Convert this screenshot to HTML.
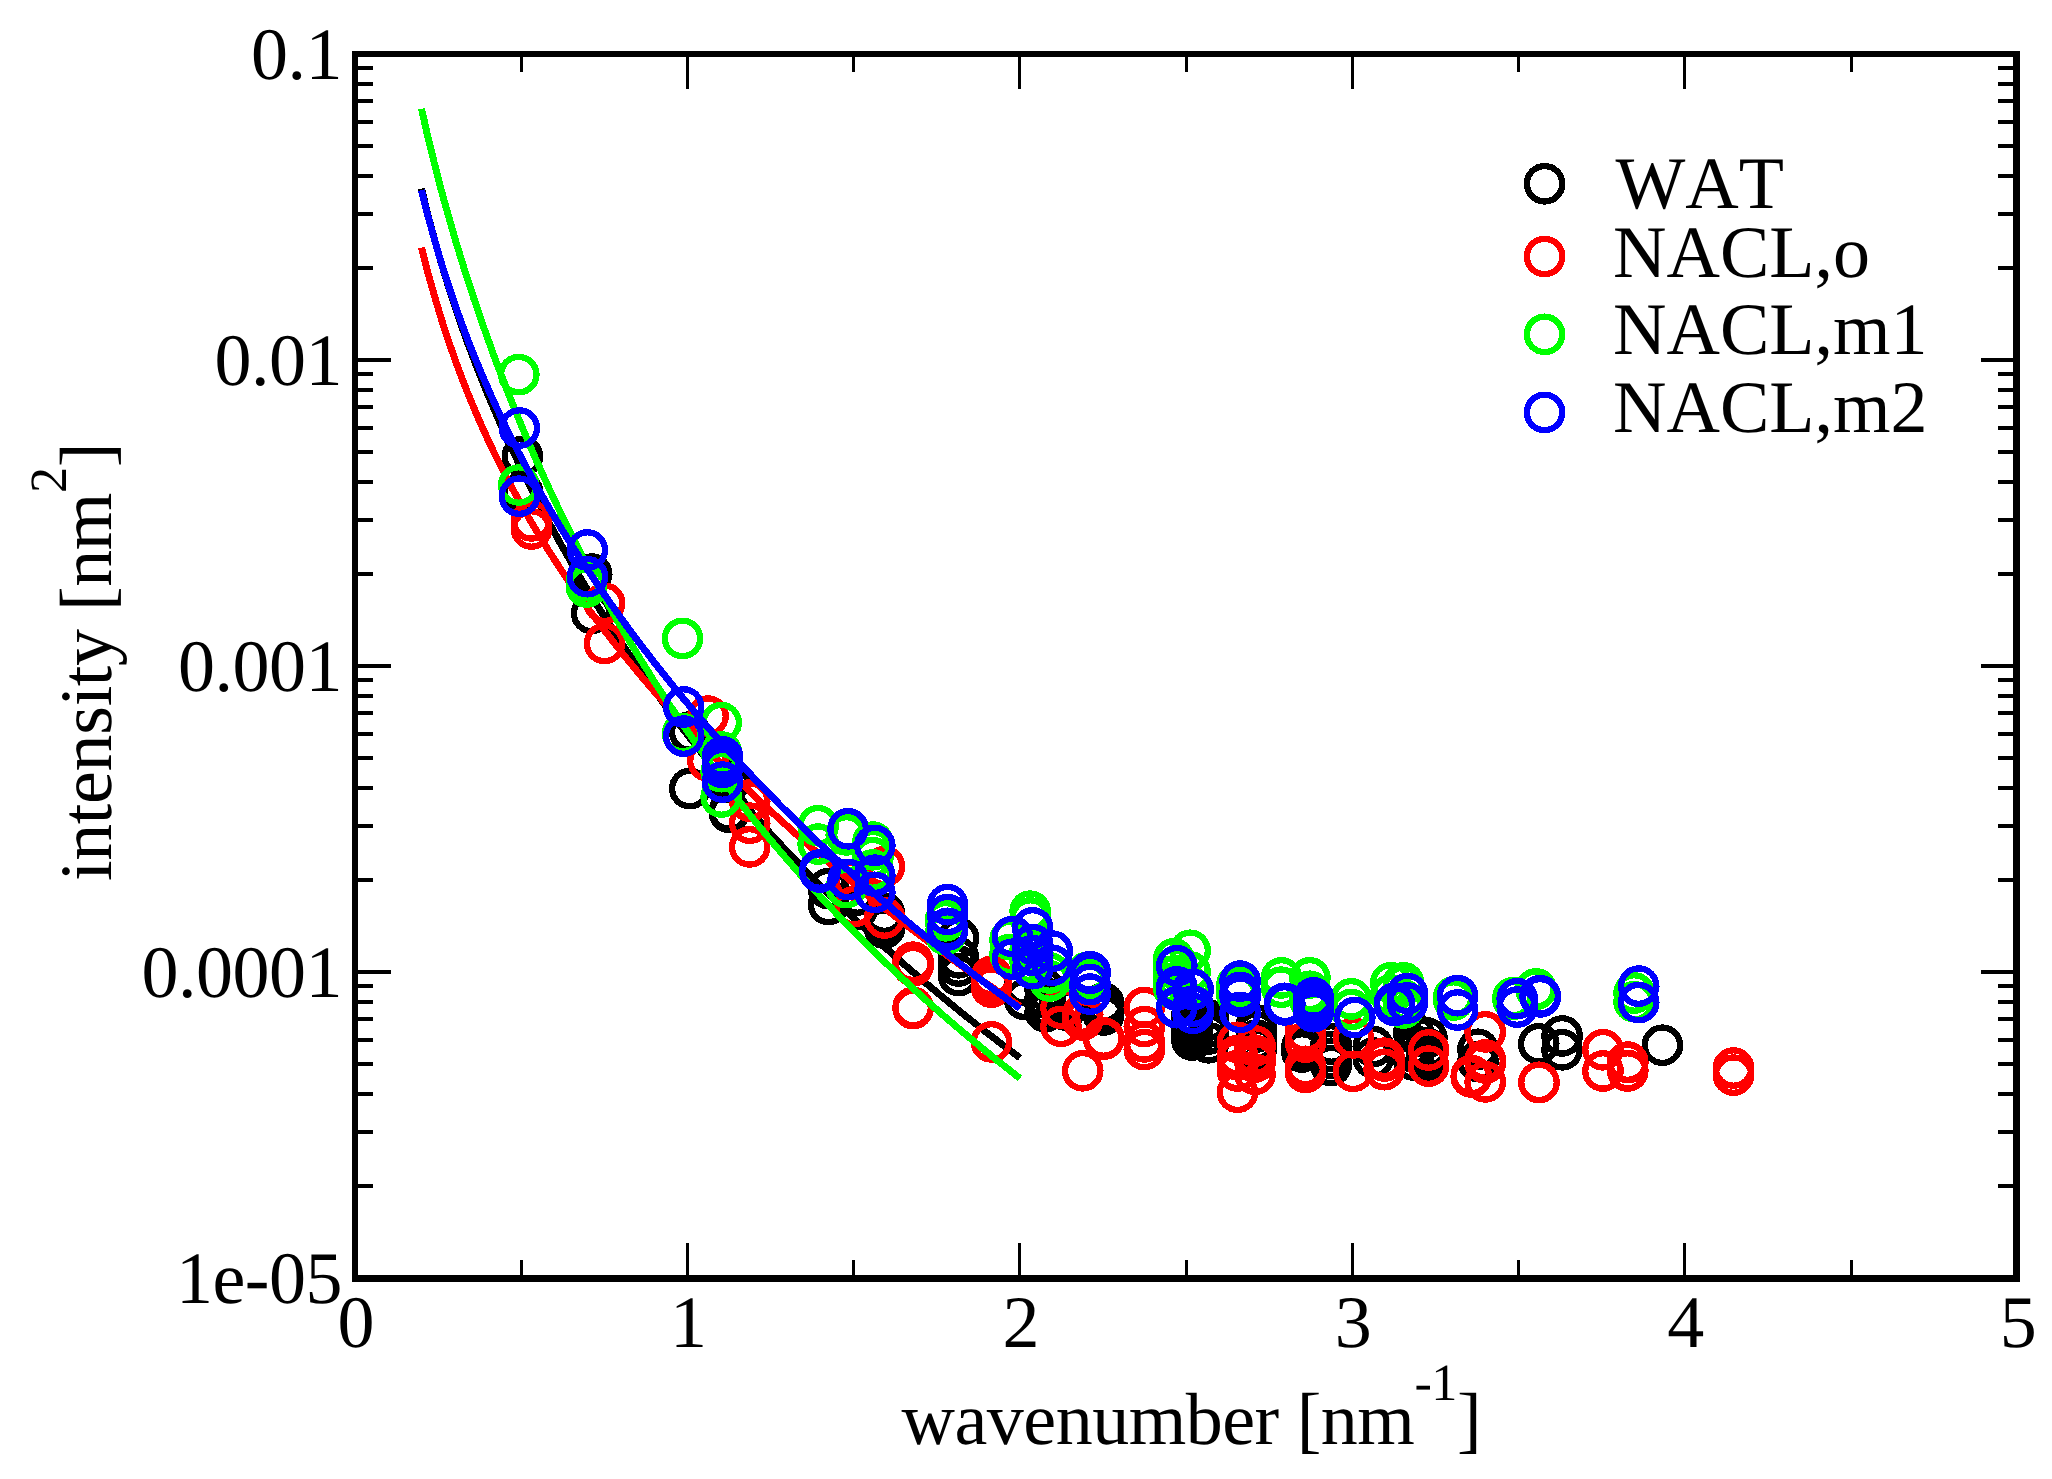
<!DOCTYPE html>
<html><head><meta charset="utf-8"><title>plot</title>
<style>html,body{margin:0;padding:0;background:#fff;overflow:hidden}svg{display:block}</style></head><body>
<svg width="2052" height="1479" viewBox="0 0 2052 1479">
<rect width="2052" height="1479" fill="#fff"/>
<g shape-rendering="crispEdges">
<g fill="none" stroke="#000" stroke-width="6.3"><circle cx="522.4" cy="456.3" r="17.7"/><circle cx="522.4" cy="491.8" r="17.7"/><circle cx="591.7" cy="574.1" r="17.7"/><circle cx="591.7" cy="613.4" r="17.7"/><circle cx="689.8" cy="732.0" r="17.7"/><circle cx="689.8" cy="788.6" r="17.7"/><circle cx="729.3" cy="781.0" r="17.7"/><circle cx="729.3" cy="782.5" r="17.7"/><circle cx="729.3" cy="811.0" r="17.7"/><circle cx="729.3" cy="812.4" r="17.7"/><circle cx="828.5" cy="888.7" r="17.7"/><circle cx="828.5" cy="904.5" r="17.7"/><circle cx="857.2" cy="895.0" r="17.7"/><circle cx="857.2" cy="909.3" r="17.7"/><circle cx="884.4" cy="913.1" r="17.7"/><circle cx="884.4" cy="920.0" r="17.7"/><circle cx="884.4" cy="922.7" r="17.7"/><circle cx="884.4" cy="928.2" r="17.7"/><circle cx="958.6" cy="938.2" r="17.7"/><circle cx="958.6" cy="957.8" r="17.7"/><circle cx="958.6" cy="966.0" r="17.7"/><circle cx="958.6" cy="975.6" r="17.7"/><circle cx="1024.6" cy="985.0" r="17.7"/><circle cx="1024.6" cy="999.4" r="17.7"/><circle cx="1045.2" cy="990.0" r="17.7"/><circle cx="1045.2" cy="998.0" r="17.7"/><circle cx="1045.2" cy="1005.0" r="17.7"/><circle cx="1045.2" cy="1011.7" r="17.7"/><circle cx="1065.2" cy="1000.0" r="17.7"/><circle cx="1065.2" cy="1010.0" r="17.7"/><circle cx="1103.6" cy="1003.0" r="17.7"/><circle cx="1103.6" cy="1007.0" r="17.7"/><circle cx="1103.6" cy="1011.0" r="17.7"/><circle cx="1103.6" cy="1015.0" r="17.7"/><circle cx="1192.0" cy="1015.0" r="17.7"/><circle cx="1192.0" cy="1020.0" r="17.7"/><circle cx="1192.0" cy="1026.0" r="17.7"/><circle cx="1192.0" cy="1031.0" r="17.7"/><circle cx="1192.0" cy="1036.0" r="17.7"/><circle cx="1192.0" cy="1040.0" r="17.7"/><circle cx="1208.6" cy="1020.0" r="17.7"/><circle cx="1208.6" cy="1027.0" r="17.7"/><circle cx="1208.6" cy="1034.0" r="17.7"/><circle cx="1208.6" cy="1042.8" r="17.7"/><circle cx="1256.5" cy="1025.0" r="17.7"/><circle cx="1256.5" cy="1032.0" r="17.7"/><circle cx="1256.5" cy="1040.0" r="17.7"/><circle cx="1256.5" cy="1048.7" r="17.7"/><circle cx="1302.0" cy="1046.6" r="17.7"/><circle cx="1302.0" cy="1052.0" r="17.7"/><circle cx="1331.1" cy="1044.0" r="17.7"/><circle cx="1331.1" cy="1051.5" r="17.7"/><circle cx="1331.1" cy="1058.3" r="17.7"/><circle cx="1331.1" cy="1065.6" r="17.7"/><circle cx="1373.3" cy="1046.6" r="17.7"/><circle cx="1373.3" cy="1058.0" r="17.7"/><circle cx="1413.7" cy="1033.0" r="17.7"/><circle cx="1413.7" cy="1045.0" r="17.7"/><circle cx="1413.7" cy="1052.0" r="17.7"/><circle cx="1413.7" cy="1060.0" r="17.7"/><circle cx="1426.9" cy="1038.0" r="17.7"/><circle cx="1426.9" cy="1048.0" r="17.7"/><circle cx="1426.9" cy="1056.0" r="17.7"/><circle cx="1426.9" cy="1062.0" r="17.7"/><circle cx="1478.0" cy="1049.3" r="17.7"/><circle cx="1478.0" cy="1061.5" r="17.7"/><circle cx="1538.7" cy="1043.8" r="17.7"/><circle cx="1562.1" cy="1035.9" r="17.7"/><circle cx="1562.1" cy="1049.8" r="17.7"/><circle cx="1662.4" cy="1045.2" r="17.7"/></g>
<path d="M421.5,188.6 L428.1,215.6 L434.8,240.5 L441.4,263.7 L448.1,285.5 L454.7,306.0 L461.4,325.4 L468.0,343.9 L474.7,361.6 L481.3,378.5 L488.0,394.8 L494.6,410.5 L501.3,425.7 L507.9,440.4 L514.6,454.6 L521.2,468.5 L527.9,482.0 L534.5,495.1 L541.2,507.9 L547.8,520.4 L554.5,532.6 L561.1,544.6 L567.8,556.3 L574.4,567.8 L581.1,579.0 L587.7,590.0 L594.4,600.9 L601.0,611.5 L607.7,621.9 L614.3,632.2 L621.0,642.3 L627.6,652.2 L634.3,661.9 L640.9,671.5 L647.6,681.0 L654.2,690.3 L660.9,699.5 L667.5,708.5 L674.2,717.4 L680.8,726.2 L687.5,734.8 L694.1,743.3 L700.7,751.7 L707.4,760.0 L714.0,768.2 L720.7,776.3 L727.3,784.2 L734.0,792.1 L740.6,799.8 L747.3,807.5 L753.9,815.1 L760.6,822.5 L767.2,829.9 L773.9,837.2 L780.5,844.4 L787.2,851.5 L793.8,858.5 L800.5,865.5 L807.1,872.3 L813.8,879.1 L820.4,885.8 L827.1,892.5 L833.7,899.0 L840.4,905.5 L847.0,912.0 L853.7,918.3 L860.3,924.6 L867.0,930.8 L873.6,936.9 L880.3,943.0 L886.9,949.1 L893.6,955.0 L900.2,960.9 L906.9,966.8 L913.5,972.5 L920.2,978.3 L926.8,983.9 L933.5,989.5 L940.1,995.1 L946.8,1000.6 L953.4,1006.1 L960.1,1011.5 L966.7,1016.8 L973.4,1022.1 L980.0,1027.4 L986.7,1032.6 L993.3,1037.7 L1000.0,1042.8 L1006.6,1047.9 L1013.3,1052.9 L1019.9,1057.9" fill="none" stroke="#000" stroke-width="7" stroke-linejoin="round"/>
<g fill="none" stroke="#f00" stroke-width="6.3"><circle cx="531.5" cy="520.9" r="17.7"/><circle cx="531.5" cy="529.0" r="17.7"/><circle cx="604.6" cy="603.2" r="17.7"/><circle cx="604.6" cy="643.4" r="17.7"/><circle cx="708.0" cy="716.1" r="17.7"/><circle cx="708.0" cy="761.0" r="17.7"/><circle cx="749.7" cy="800.0" r="17.7"/><circle cx="749.7" cy="801.2" r="17.7"/><circle cx="749.7" cy="823.2" r="17.7"/><circle cx="749.7" cy="846.9" r="17.7"/><circle cx="854.2" cy="880.0" r="17.7"/><circle cx="854.2" cy="906.6" r="17.7"/><circle cx="884.5" cy="866.5" r="17.7"/><circle cx="884.5" cy="918.0" r="17.7"/><circle cx="913.1" cy="962.2" r="17.7"/><circle cx="913.1" cy="965.8" r="17.7"/><circle cx="913.1" cy="1007.5" r="17.7"/><circle cx="913.1" cy="1008.5" r="17.7"/><circle cx="991.4" cy="976.4" r="17.7"/><circle cx="991.4" cy="982.0" r="17.7"/><circle cx="991.4" cy="987.2" r="17.7"/><circle cx="991.4" cy="1041.9" r="17.7"/><circle cx="1061.0" cy="1008.2" r="17.7"/><circle cx="1061.0" cy="1026.4" r="17.7"/><circle cx="1082.7" cy="1014.0" r="17.7"/><circle cx="1082.7" cy="1017.0" r="17.7"/><circle cx="1082.7" cy="1020.0" r="17.7"/><circle cx="1082.7" cy="1070.8" r="17.7"/><circle cx="1103.8" cy="1038.0" r="17.7"/><circle cx="1103.8" cy="1039.2" r="17.7"/><circle cx="1144.3" cy="1007.5" r="17.7"/><circle cx="1144.3" cy="1026.6" r="17.7"/><circle cx="1144.3" cy="1041.9" r="17.7"/><circle cx="1144.3" cy="1049.6" r="17.7"/><circle cx="1237.5" cy="1042.3" r="17.7"/><circle cx="1237.5" cy="1055.7" r="17.7"/><circle cx="1237.5" cy="1059.7" r="17.7"/><circle cx="1237.5" cy="1070.5" r="17.7"/><circle cx="1237.5" cy="1071.0" r="17.7"/><circle cx="1237.5" cy="1092.2" r="17.7"/><circle cx="1255.0" cy="1046.0" r="17.7"/><circle cx="1255.0" cy="1055.4" r="17.7"/><circle cx="1255.0" cy="1062.0" r="17.7"/><circle cx="1255.0" cy="1074.3" r="17.7"/><circle cx="1305.5" cy="1032.2" r="17.7"/><circle cx="1305.5" cy="1042.1" r="17.7"/><circle cx="1305.5" cy="1066.3" r="17.7"/><circle cx="1305.5" cy="1072.4" r="17.7"/><circle cx="1353.4" cy="1037.9" r="17.7"/><circle cx="1353.4" cy="1071.3" r="17.7"/><circle cx="1384.2" cy="1058.2" r="17.7"/><circle cx="1384.2" cy="1061.0" r="17.7"/><circle cx="1384.2" cy="1069.3" r="17.7"/><circle cx="1384.2" cy="1069.7" r="17.7"/><circle cx="1428.6" cy="1050.0" r="17.7"/><circle cx="1428.6" cy="1066.1" r="17.7"/><circle cx="1471.3" cy="1075.5" r="17.7"/><circle cx="1471.3" cy="1077.0" r="17.7"/><circle cx="1485.2" cy="1031.9" r="17.7"/><circle cx="1485.2" cy="1060.0" r="17.7"/><circle cx="1485.2" cy="1063.0" r="17.7"/><circle cx="1485.2" cy="1081.9" r="17.7"/><circle cx="1539.0" cy="1082.3" r="17.7"/><circle cx="1539.0" cy="1082.5" r="17.7"/><circle cx="1603.0" cy="1049.8" r="17.7"/><circle cx="1603.0" cy="1071.0" r="17.7"/><circle cx="1627.8" cy="1062.1" r="17.7"/><circle cx="1627.8" cy="1062.6" r="17.7"/><circle cx="1627.8" cy="1070.5" r="17.7"/><circle cx="1627.8" cy="1071.0" r="17.7"/><circle cx="1733.5" cy="1068.0" r="17.7"/><circle cx="1733.5" cy="1075.1" r="17.7"/></g>
<path d="M421.5,247.6 L428.1,273.5 L434.8,297.2 L441.4,319.2 L448.1,339.6 L454.7,358.7 L461.4,376.7 L468.0,393.7 L474.7,409.8 L481.3,425.1 L488.0,439.7 L494.6,453.7 L501.3,467.2 L507.9,480.1 L514.6,492.6 L521.2,504.6 L527.9,516.3 L534.5,527.6 L541.2,538.6 L547.8,549.3 L554.5,559.7 L561.1,569.8 L567.8,579.7 L574.4,589.3 L581.1,598.7 L587.7,608.0 L594.4,617.0 L601.0,625.9 L607.7,634.6 L614.3,643.1 L621.0,651.5 L627.6,659.7 L634.3,667.8 L640.9,675.8 L647.6,683.6 L654.2,691.3 L660.9,698.9 L667.5,706.4 L674.2,713.8 L680.8,721.1 L687.5,728.2 L694.1,735.3 L700.7,742.3 L707.4,749.2 L714.0,756.1 L720.7,762.8 L727.3,769.5 L734.0,776.0 L740.6,782.5 L747.3,789.0 L753.9,795.3 L760.6,801.6 L767.2,807.8 L773.9,814.0 L780.5,820.1 L787.2,826.1 L793.8,832.1 L800.5,838.0 L807.1,843.9 L813.8,849.7 L820.4,855.4 L827.1,861.1 L833.7,866.7 L840.4,872.3 L847.0,877.8 L853.7,883.3 L860.3,888.7 L867.0,894.1 L873.6,899.5 L880.3,904.7 L886.9,910.0 L893.6,915.2 L900.2,920.3 L906.9,925.4 L913.5,930.5 L920.2,935.5 L926.8,940.5 L933.5,945.5 L940.1,950.4 L946.8,955.2 L953.4,960.1 L960.1,964.8 L966.7,969.6 L973.4,974.3 L980.0,979.0 L986.7,983.6 L993.3,988.2 L1000.0,992.8 L1006.6,997.3 L1013.3,1001.8 L1019.9,1006.3" fill="none" stroke="#f00" stroke-width="7" stroke-linejoin="round"/>
<g fill="none" stroke="#0f0" stroke-width="6.3"><circle cx="518.8" cy="374.6" r="17.7"/><circle cx="518.8" cy="485.0" r="17.7"/><circle cx="586.6" cy="580.6" r="17.7"/><circle cx="586.6" cy="587.0" r="17.7"/><circle cx="682.5" cy="638.4" r="17.7"/><circle cx="682.5" cy="733.5" r="17.7"/><circle cx="721.2" cy="722.6" r="17.7"/><circle cx="721.2" cy="752.0" r="17.7"/><circle cx="721.2" cy="771.7" r="17.7"/><circle cx="721.2" cy="797.0" r="17.7"/><circle cx="818.2" cy="825.8" r="17.7"/><circle cx="818.2" cy="844.1" r="17.7"/><circle cx="846.3" cy="834.9" r="17.7"/><circle cx="846.3" cy="887.6" r="17.7"/><circle cx="872.9" cy="842.1" r="17.7"/><circle cx="872.9" cy="849.8" r="17.7"/><circle cx="872.9" cy="857.6" r="17.7"/><circle cx="872.9" cy="870.0" r="17.7"/><circle cx="945.5" cy="920.2" r="17.7"/><circle cx="945.5" cy="920.8" r="17.7"/><circle cx="945.5" cy="934.0" r="17.7"/><circle cx="945.5" cy="934.6" r="17.7"/><circle cx="1010.1" cy="939.5" r="17.7"/><circle cx="1010.1" cy="954.4" r="17.7"/><circle cx="1030.2" cy="911.2" r="17.7"/><circle cx="1030.2" cy="918.0" r="17.7"/><circle cx="1030.2" cy="950.0" r="17.7"/><circle cx="1030.2" cy="962.3" r="17.7"/><circle cx="1049.8" cy="973.0" r="17.7"/><circle cx="1049.8" cy="981.0" r="17.7"/><circle cx="1087.4" cy="972.2" r="17.7"/><circle cx="1087.4" cy="977.6" r="17.7"/><circle cx="1087.4" cy="981.1" r="17.7"/><circle cx="1087.4" cy="983.0" r="17.7"/><circle cx="1173.8" cy="958.9" r="17.7"/><circle cx="1173.8" cy="968.0" r="17.7"/><circle cx="1173.8" cy="976.0" r="17.7"/><circle cx="1173.8" cy="983.0" r="17.7"/><circle cx="1173.8" cy="986.0" r="17.7"/><circle cx="1173.8" cy="988.7" r="17.7"/><circle cx="1190.1" cy="950.3" r="17.7"/><circle cx="1190.1" cy="972.0" r="17.7"/><circle cx="1190.1" cy="986.4" r="17.7"/><circle cx="1190.1" cy="987.0" r="17.7"/><circle cx="1236.9" cy="985.0" r="17.7"/><circle cx="1236.9" cy="985.5" r="17.7"/><circle cx="1236.9" cy="990.0" r="17.7"/><circle cx="1236.9" cy="994.4" r="17.7"/><circle cx="1281.4" cy="977.9" r="17.7"/><circle cx="1281.4" cy="987.2" r="17.7"/><circle cx="1309.9" cy="977.9" r="17.7"/><circle cx="1309.9" cy="991.3" r="17.7"/><circle cx="1309.9" cy="994.5" r="17.7"/><circle cx="1309.9" cy="1000.0" r="17.7"/><circle cx="1351.2" cy="998.9" r="17.7"/><circle cx="1351.2" cy="1009.5" r="17.7"/><circle cx="1390.8" cy="982.8" r="17.7"/><circle cx="1390.8" cy="995.0" r="17.7"/><circle cx="1403.6" cy="982.8" r="17.7"/><circle cx="1403.6" cy="985.4" r="17.7"/><circle cx="1403.6" cy="1000.0" r="17.7"/><circle cx="1403.6" cy="1008.0" r="17.7"/><circle cx="1453.6" cy="997.0" r="17.7"/><circle cx="1453.6" cy="1000.0" r="17.7"/><circle cx="1513.0" cy="997.6" r="17.7"/><circle cx="1513.0" cy="999.3" r="17.7"/><circle cx="1536.0" cy="988.9" r="17.7"/><circle cx="1536.0" cy="989.2" r="17.7"/><circle cx="1634.1" cy="993.0" r="17.7"/><circle cx="1634.1" cy="1001.7" r="17.7"/></g>
<path d="M421.5,108.8 L428.1,137.9 L434.8,165.1 L441.4,190.7 L448.1,214.8 L454.7,237.8 L461.4,259.8 L468.0,280.8 L474.7,301.0 L481.3,320.5 L488.0,339.3 L494.6,357.5 L501.3,375.1 L507.9,392.2 L514.6,408.9 L521.2,425.0 L527.9,440.8 L534.5,456.2 L541.2,471.1 L547.8,485.7 L554.5,500.0 L561.1,514.0 L567.8,527.6 L574.4,540.9 L581.1,554.0 L587.7,566.7 L594.4,579.2 L601.0,591.5 L607.7,603.5 L614.3,615.2 L621.0,626.8 L627.6,638.1 L634.3,649.2 L640.9,660.1 L647.6,670.8 L654.2,681.4 L660.9,691.7 L667.5,701.9 L674.2,711.8 L680.8,721.7 L687.5,731.3 L694.1,740.8 L700.7,750.2 L707.4,759.3 L714.0,768.4 L720.7,777.3 L727.3,786.1 L734.0,794.7 L740.6,803.2 L747.3,811.6 L753.9,819.9 L760.6,828.0 L767.2,836.1 L773.9,844.0 L780.5,851.8 L787.2,859.5 L793.8,867.1 L800.5,874.6 L807.1,882.0 L813.8,889.3 L820.4,896.5 L827.1,903.7 L833.7,910.7 L840.4,917.6 L847.0,924.5 L853.7,931.3 L860.3,938.0 L867.0,944.6 L873.6,951.1 L880.3,957.6 L886.9,964.0 L893.6,970.3 L900.2,976.5 L906.9,982.7 L913.5,988.8 L920.2,994.9 L926.8,1000.8 L933.5,1006.7 L940.1,1012.6 L946.8,1018.4 L953.4,1024.1 L960.1,1029.8 L966.7,1035.4 L973.4,1040.9 L980.0,1046.4 L986.7,1051.9 L993.3,1057.3 L1000.0,1062.6 L1006.6,1067.9 L1013.3,1073.1 L1019.9,1078.3" fill="none" stroke="#0f0" stroke-width="7" stroke-linejoin="round"/>
<g fill="none" stroke="#00f" stroke-width="6.3"><circle cx="519.4" cy="428.0" r="17.7"/><circle cx="519.4" cy="496.2" r="17.7"/><circle cx="587.4" cy="550.0" r="17.7"/><circle cx="587.4" cy="576.7" r="17.7"/><circle cx="683.7" cy="707.0" r="17.7"/><circle cx="683.7" cy="736.1" r="17.7"/><circle cx="722.5" cy="756.9" r="17.7"/><circle cx="722.5" cy="762.5" r="17.7"/><circle cx="722.5" cy="767.5" r="17.7"/><circle cx="722.5" cy="782.0" r="17.7"/><circle cx="819.9" cy="870.0" r="17.7"/><circle cx="819.9" cy="872.0" r="17.7"/><circle cx="848.1" cy="828.8" r="17.7"/><circle cx="848.1" cy="879.5" r="17.7"/><circle cx="874.8" cy="845.5" r="17.7"/><circle cx="874.8" cy="875.2" r="17.7"/><circle cx="874.8" cy="876.0" r="17.7"/><circle cx="874.8" cy="892.3" r="17.7"/><circle cx="947.6" cy="904.7" r="17.7"/><circle cx="947.6" cy="914.5" r="17.7"/><circle cx="947.6" cy="928.3" r="17.7"/><circle cx="947.6" cy="930.0" r="17.7"/><circle cx="1012.4" cy="936.5" r="17.7"/><circle cx="1012.4" cy="959.2" r="17.7"/><circle cx="1032.7" cy="927.9" r="17.7"/><circle cx="1032.7" cy="944.6" r="17.7"/><circle cx="1032.7" cy="955.5" r="17.7"/><circle cx="1032.7" cy="968.7" r="17.7"/><circle cx="1052.3" cy="951.1" r="17.7"/><circle cx="1052.3" cy="965.3" r="17.7"/><circle cx="1090.0" cy="971.8" r="17.7"/><circle cx="1090.0" cy="973.4" r="17.7"/><circle cx="1090.0" cy="984.5" r="17.7"/><circle cx="1090.0" cy="994.1" r="17.7"/><circle cx="1176.8" cy="965.8" r="17.7"/><circle cx="1176.8" cy="986.9" r="17.7"/><circle cx="1176.8" cy="990.1" r="17.7"/><circle cx="1176.8" cy="1006.7" r="17.7"/><circle cx="1176.8" cy="1007.2" r="17.7"/><circle cx="1176.8" cy="1007.7" r="17.7"/><circle cx="1193.1" cy="989.5" r="17.7"/><circle cx="1193.1" cy="1006.1" r="17.7"/><circle cx="1193.1" cy="1006.3" r="17.7"/><circle cx="1193.1" cy="1013.4" r="17.7"/><circle cx="1240.1" cy="981.1" r="17.7"/><circle cx="1240.1" cy="992.5" r="17.7"/><circle cx="1240.1" cy="996.3" r="17.7"/><circle cx="1240.1" cy="1012.4" r="17.7"/><circle cx="1284.8" cy="1003.3" r="17.7"/><circle cx="1284.8" cy="1004.9" r="17.7"/><circle cx="1313.4" cy="997.9" r="17.7"/><circle cx="1313.4" cy="1002.5" r="17.7"/><circle cx="1313.4" cy="1007.0" r="17.7"/><circle cx="1313.4" cy="1011.7" r="17.7"/><circle cx="1354.8" cy="1017.5" r="17.7"/><circle cx="1394.5" cy="1003.3" r="17.7"/><circle cx="1394.5" cy="1005.4" r="17.7"/><circle cx="1407.4" cy="993.5" r="17.7"/><circle cx="1407.4" cy="1003.0" r="17.7"/><circle cx="1457.6" cy="995.7" r="17.7"/><circle cx="1457.6" cy="1010.0" r="17.7"/><circle cx="1517.2" cy="998.6" r="17.7"/><circle cx="1517.2" cy="1007.1" r="17.7"/><circle cx="1540.2" cy="995.7" r="17.7"/><circle cx="1540.2" cy="996.9" r="17.7"/><circle cx="1638.7" cy="986.1" r="17.7"/><circle cx="1638.7" cy="1002.6" r="17.7"/></g>
<path d="M421.5,190.1 L428.1,216.5 L434.8,240.7 L441.4,263.2 L448.1,284.2 L454.7,304.0 L461.4,322.6 L468.0,340.3 L474.7,357.1 L481.3,373.2 L488.0,388.5 L494.6,403.3 L501.3,417.6 L507.9,431.4 L514.6,444.7 L521.2,457.6 L527.9,470.1 L534.5,482.3 L541.2,494.2 L547.8,505.8 L554.5,517.1 L561.1,528.1 L567.8,538.9 L574.4,549.5 L581.1,559.8 L587.7,570.0 L594.4,579.9 L601.0,589.7 L607.7,599.3 L614.3,608.8 L621.0,618.0 L627.6,627.2 L634.3,636.2 L640.9,645.0 L647.6,653.7 L654.2,662.3 L660.9,670.7 L667.5,679.1 L674.2,687.3 L680.8,695.4 L687.5,703.4 L694.1,711.3 L700.7,719.1 L707.4,726.8 L714.0,734.4 L720.7,741.9 L727.3,749.3 L734.0,756.6 L740.6,763.8 L747.3,771.0 L753.9,778.0 L760.6,785.0 L767.2,791.9 L773.9,798.7 L780.5,805.5 L787.2,812.1 L793.8,818.7 L800.5,825.3 L807.1,831.7 L813.8,838.1 L820.4,844.4 L827.1,850.7 L833.7,856.9 L840.4,863.0 L847.0,869.1 L853.7,875.1 L860.3,881.1 L867.0,887.0 L873.6,892.8 L880.3,898.6 L886.9,904.3 L893.6,910.0 L900.2,915.6 L906.9,921.1 L913.5,926.7 L920.2,932.1 L926.8,937.5 L933.5,942.9 L940.1,948.2 L946.8,953.5 L953.4,958.7 L960.1,963.9 L966.7,969.0 L973.4,974.1 L980.0,979.1 L986.7,984.1 L993.3,989.1 L1000.0,994.0 L1006.6,998.9 L1013.3,1003.7 L1019.9,1008.5" fill="none" stroke="#00f" stroke-width="7" stroke-linejoin="round"/>
<circle cx="1544.6" cy="183.8" r="17.7" fill="none" stroke="#000" stroke-width="6.3"/>
<circle cx="1544.6" cy="256.5" r="17.7" fill="none" stroke="#f00" stroke-width="6.3"/>
<circle cx="1544.6" cy="334.3" r="17.7" fill="none" stroke="#0f0" stroke-width="6.3"/>
<circle cx="1544.6" cy="412.4" r="17.7" fill="none" stroke="#00f" stroke-width="6.3"/>
</g>
<g fill="#000" shape-rendering="crispEdges"><rect x="352" y="51" width="1668" height="6"/><rect x="352" y="1275" width="1668" height="7"/><rect x="352" y="51" width="6" height="1231"/><rect x="2013" y="51" width="7" height="1231"/><rect x="355" y="52" width="36" height="4"/><rect x="1981" y="52" width="36" height="4"/><rect x="355" y="358" width="36" height="4"/><rect x="1981" y="358" width="36" height="4"/><rect x="355" y="266" width="18" height="4"/><rect x="1998" y="266" width="19" height="4"/><rect x="355" y="212" width="18" height="4"/><rect x="1998" y="212" width="19" height="4"/><rect x="355" y="174" width="18" height="4"/><rect x="1998" y="174" width="19" height="4"/><rect x="355" y="144" width="18" height="4"/><rect x="1998" y="144" width="19" height="4"/><rect x="355" y="120" width="18" height="4"/><rect x="1998" y="120" width="19" height="4"/><rect x="355" y="99" width="18" height="4"/><rect x="1998" y="99" width="19" height="4"/><rect x="355" y="82" width="18" height="4"/><rect x="1998" y="82" width="19" height="4"/><rect x="355" y="66" width="18" height="4"/><rect x="1998" y="66" width="19" height="4"/><rect x="355" y="664" width="36" height="4"/><rect x="1981" y="664" width="36" height="4"/><rect x="355" y="572" width="18" height="4"/><rect x="1998" y="572" width="19" height="4"/><rect x="355" y="518" width="18" height="4"/><rect x="1998" y="518" width="19" height="4"/><rect x="355" y="480" width="18" height="4"/><rect x="1998" y="480" width="19" height="4"/><rect x="355" y="450" width="18" height="4"/><rect x="1998" y="450" width="19" height="4"/><rect x="355" y="426" width="18" height="4"/><rect x="1998" y="426" width="19" height="4"/><rect x="355" y="405" width="18" height="4"/><rect x="1998" y="405" width="19" height="4"/><rect x="355" y="388" width="18" height="4"/><rect x="1998" y="388" width="19" height="4"/><rect x="355" y="372" width="18" height="4"/><rect x="1998" y="372" width="19" height="4"/><rect x="355" y="970" width="36" height="4"/><rect x="1981" y="970" width="36" height="4"/><rect x="355" y="878" width="18" height="4"/><rect x="1998" y="878" width="19" height="4"/><rect x="355" y="824" width="18" height="4"/><rect x="1998" y="824" width="19" height="4"/><rect x="355" y="786" width="18" height="4"/><rect x="1998" y="786" width="19" height="4"/><rect x="355" y="756" width="18" height="4"/><rect x="1998" y="756" width="19" height="4"/><rect x="355" y="732" width="18" height="4"/><rect x="1998" y="732" width="19" height="4"/><rect x="355" y="711" width="18" height="4"/><rect x="1998" y="711" width="19" height="4"/><rect x="355" y="694" width="18" height="4"/><rect x="1998" y="694" width="19" height="4"/><rect x="355" y="678" width="18" height="4"/><rect x="1998" y="678" width="19" height="4"/><rect x="355" y="1276" width="36" height="4"/><rect x="1981" y="1276" width="36" height="4"/><rect x="355" y="1184" width="18" height="4"/><rect x="1998" y="1184" width="19" height="4"/><rect x="355" y="1130" width="18" height="4"/><rect x="1998" y="1130" width="19" height="4"/><rect x="355" y="1092" width="18" height="4"/><rect x="1998" y="1092" width="19" height="4"/><rect x="355" y="1062" width="18" height="4"/><rect x="1998" y="1062" width="19" height="4"/><rect x="355" y="1038" width="18" height="4"/><rect x="1998" y="1038" width="19" height="4"/><rect x="355" y="1017" width="18" height="4"/><rect x="1998" y="1017" width="19" height="4"/><rect x="355" y="1000" width="18" height="4"/><rect x="1998" y="1000" width="19" height="4"/><rect x="355" y="984" width="18" height="4"/><rect x="1998" y="984" width="19" height="4"/><rect x="354" y="1243" width="3" height="35"/><rect x="354" y="54" width="3" height="35"/><rect x="520" y="1260" width="3" height="18"/><rect x="520" y="54" width="3" height="18"/><rect x="686" y="1243" width="3" height="35"/><rect x="686" y="54" width="3" height="35"/><rect x="852" y="1260" width="3" height="18"/><rect x="852" y="54" width="3" height="18"/><rect x="1018" y="1243" width="3" height="35"/><rect x="1018" y="54" width="3" height="35"/><rect x="1185" y="1260" width="3" height="18"/><rect x="1185" y="54" width="3" height="18"/><rect x="1351" y="1243" width="3" height="35"/><rect x="1351" y="54" width="3" height="35"/><rect x="1517" y="1260" width="3" height="18"/><rect x="1517" y="54" width="3" height="18"/><rect x="1683" y="1243" width="3" height="35"/><rect x="1683" y="54" width="3" height="35"/><rect x="1850" y="1260" width="3" height="18"/><rect x="1850" y="54" width="3" height="18"/><rect x="2016" y="1243" width="3" height="35"/><rect x="2016" y="54" width="3" height="35"/></g>
<g font-family="Liberation Serif, serif" style="font-kerning:none" text-rendering="geometricPrecision" font-size="74" fill="#000"><text x="342" y="79.3" text-anchor="end" letter-spacing="-0.5">0.1</text><text x="342" y="385.3" text-anchor="end" letter-spacing="-0.5">0.01</text><text x="342" y="691.3" text-anchor="end" letter-spacing="-0.5">0.001</text><text x="342" y="997.3" text-anchor="end" letter-spacing="-0.5">0.0001</text><text x="342" y="1303.3" text-anchor="end" letter-spacing="-0.5">1e-05</text><text x="356.0" y="1346.5" text-anchor="middle">0</text><text x="688.5" y="1346.5" text-anchor="middle">1</text><text x="1020.9" y="1346.5" text-anchor="middle">2</text><text x="1353.3" y="1346.5" text-anchor="middle">3</text><text x="1685.8" y="1346.5" text-anchor="middle">4</text><text x="2018.2" y="1346.5" text-anchor="middle">5</text><text x="1615.5" y="208">WAT</text><text x="1613" y="276.9">NACL,o</text><text x="1613" y="354.2">NACL,m1</text><text x="1613" y="432.1">NACL,m2</text><text x="901.5" y="1444" letter-spacing="-0.5">wavenumber [nm<tspan font-size="52.3" dy="-44.5">-1</tspan><tspan dy="44.5">]</tspan></text><text transform="translate(110.5,881) rotate(-90)" letter-spacing="-0.35">intensity [nm<tspan font-size="52.3" dy="-44.5">2</tspan><tspan dy="44.5">]</tspan></text></g>
</svg></body></html>
